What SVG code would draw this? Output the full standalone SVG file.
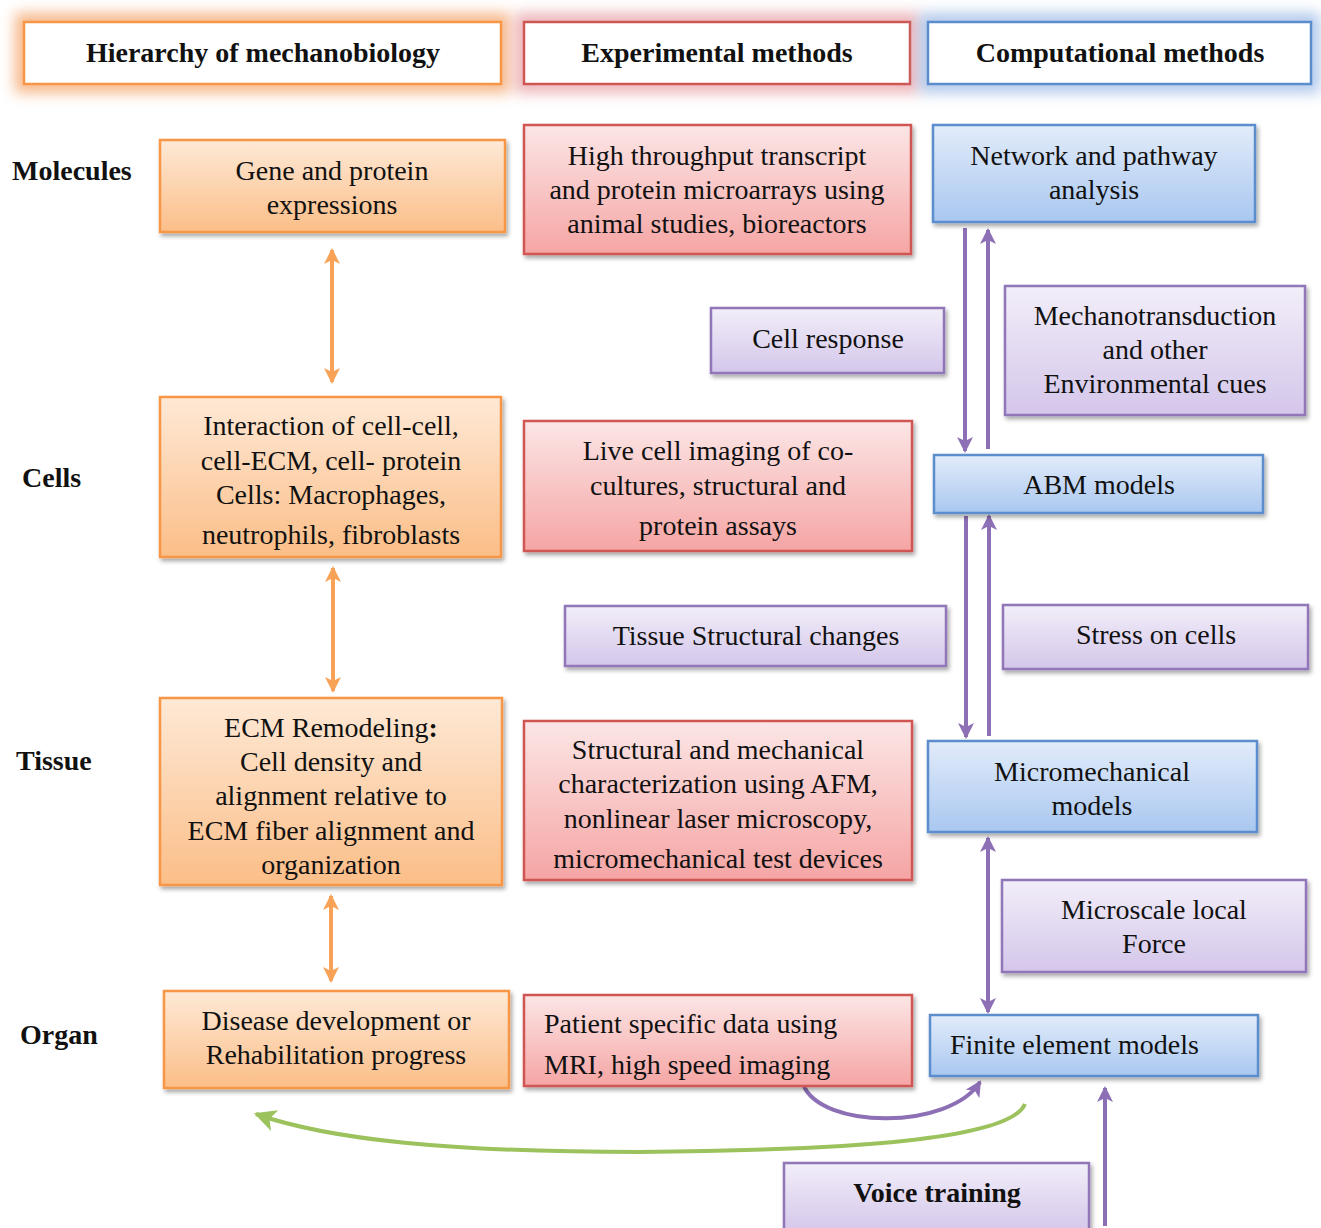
<svg xmlns="http://www.w3.org/2000/svg" width="1321" height="1228" viewBox="0 0 1321 1228">
<defs>
<linearGradient id="gO" x1="0" y1="0" x2="0" y2="1"><stop offset="0" stop-color="#fee9d6"/><stop offset="1" stop-color="#fbbe88"/></linearGradient>
<linearGradient id="gR" x1="0" y1="0" x2="0" y2="1"><stop offset="0" stop-color="#fce6e6"/><stop offset="1" stop-color="#f5a5a4"/></linearGradient>
<linearGradient id="gB" x1="0" y1="0" x2="0" y2="1"><stop offset="0" stop-color="#e2ecfa"/><stop offset="1" stop-color="#a9c7f0"/></linearGradient>
<linearGradient id="gP" x1="0" y1="0" x2="0" y2="1"><stop offset="0" stop-color="#f2eef9"/><stop offset="1" stop-color="#d4c6ea"/></linearGradient>
<filter id="sh" x="-10%" y="-10%" width="125%" height="130%"><feDropShadow dx="2" dy="3" stdDeviation="2" flood-color="#000" flood-opacity="0.35"/></filter>
<filter id="glow" x="-20%" y="-60%" width="140%" height="220%"><feGaussianBlur stdDeviation="7"/></filter>
<marker id="aP" viewBox="0 0 16 16" refX="14" refY="8" markerWidth="16" markerHeight="16" markerUnits="userSpaceOnUse" orient="auto-start-reverse"><path d="M0,0 L16,8 L0,16 L4,8 Z" fill="#8c6fb4"/></marker>
<marker id="aO" viewBox="0 0 16 16" refX="14" refY="8" markerWidth="16" markerHeight="16" markerUnits="userSpaceOnUse" orient="auto-start-reverse"><path d="M0,0 L16,8 L0,16 L4,8 Z" fill="#f8a258"/></marker>
<marker id="aG" viewBox="0 0 20 20" refX="18" refY="10" markerWidth="22" markerHeight="22" markerUnits="userSpaceOnUse" orient="auto"><path d="M0,0 L20,10 L0,20 L5,10 Z" fill="#9bc25c"/></marker>
</defs>
<style>
text{font-family:"Liberation Serif","Times New Roman",serif;font-size:28px;fill:#111;}
.c{text-anchor:middle;}
.b{font-weight:bold;}
.o{fill:url(#gO);stroke:#f79646;stroke-width:2.5;filter:url(#sh);}
.r{fill:url(#gR);stroke:#cf5753;stroke-width:2.5;filter:url(#sh);}
.bl{fill:url(#gB);stroke:#5b8dcc;stroke-width:2.5;filter:url(#sh);}
.p{fill:url(#gP);stroke:#9176b8;stroke-width:2.5;filter:url(#sh);}
.h{fill:#fff;stroke-width:2.5;}
.pa{fill:none;stroke:#8c6fb4;stroke-width:4;}
.oa{fill:none;stroke:#f8a258;stroke-width:4;}
</style>
<rect width="1321" height="1228" fill="#fff"/>

<g id="header-hierarchy">
<rect x="24" y="22" width="477" height="62" fill="none" stroke="#f4a66c" stroke-width="18" filter="url(#glow)" opacity="0.8"/>
<rect class="h" x="24" y="22" width="477" height="62" stroke="#f79646"/>
<text class="c b" x="263" y="62">Hierarchy of mechanobiology</text>
</g>
<g id="header-experimental">
<rect x="524" y="22" width="386" height="62" fill="none" stroke="#e8a0a6" stroke-width="18" filter="url(#glow)" opacity="0.8"/>
<rect class="h" x="524" y="22" width="386" height="62" stroke="#cf5753"/>
<text class="c b" x="717" y="62">Experimental methods</text>
</g>
<g id="header-computational">
<rect x="928" y="22" width="383" height="62" fill="none" stroke="#9dbbe6" stroke-width="18" filter="url(#glow)" opacity="0.8"/>
<rect class="h" x="928" y="22" width="383" height="62" stroke="#5b8dcc"/>
<text class="c b" x="1120" y="62">Computational methods</text>
</g>

<g id="labels">
<text class="b" x="12" y="180">Molecules</text>
<text class="b" x="22" y="487">Cells</text>
<text class="b" x="16" y="770">Tissue</text>
<text class="b" x="20" y="1044">Organ</text>
</g>

<g id="connectors">
<line class="oa" x1="332" y1="250" x2="332" y2="382" marker-start="url(#aO)" marker-end="url(#aO)"/>
<line class="oa" x1="333" y1="568" x2="333" y2="691" marker-start="url(#aO)" marker-end="url(#aO)"/>
<line class="oa" x1="331" y1="896" x2="331" y2="981" marker-start="url(#aO)" marker-end="url(#aO)"/>
<line class="pa" x1="965" y1="228" x2="965" y2="451" marker-end="url(#aP)"/>
<line class="pa" x1="988" y1="449" x2="988" y2="230" marker-end="url(#aP)"/>
<line class="pa" x1="966" y1="516" x2="966" y2="737" marker-end="url(#aP)"/>
<line class="pa" x1="989" y1="736" x2="989" y2="516" marker-end="url(#aP)"/>
<line class="pa" x1="988" y1="838" x2="988" y2="1012" marker-start="url(#aP)" marker-end="url(#aP)"/>
<line class="pa" x1="1105" y1="1226" x2="1105" y2="1088" marker-end="url(#aP)"/>
<path class="pa" d="M803,1084 C820,1130 950,1130 980,1082" marker-end="url(#aP)"/>
<path d="M1025,1104 C1010,1140 850,1150 640,1152 C450,1152 330,1140 256,1114" fill="none" stroke="#9bc25c" stroke-width="4" marker-end="url(#aG)"/>
</g>

<g id="node-gene">
<rect class="o" x="160" y="140" width="345" height="92"/>
<text class="c" x="332" y="180">Gene and protein</text>
<text class="c" x="332" y="214">expressions</text>
</g>
<g id="node-interaction">
<rect class="o" x="160" y="397" width="341" height="160"/>
<text class="c" x="331" y="435">Interaction of cell-cell,</text>
<text class="c" x="331" y="470">cell-ECM, cell- protein</text>
<text class="c" x="331" y="504">Cells: Macrophages,</text>
<text class="c" x="331" y="544">neutrophils, fibroblasts</text>
</g>
<g id="node-ecm">
<rect class="o" x="160" y="698" width="342" height="187"/>
<text class="c" x="331" y="737">ECM Remodeling<tspan class="b">:</tspan></text>
<text class="c" x="331" y="771">Cell density and</text>
<text class="c" x="331" y="805">alignment relative to</text>
<text class="c" x="331" y="840">ECM fiber alignment and</text>
<text class="c" x="331" y="874">organization</text>
</g>
<g id="node-disease">
<rect class="o" x="164" y="991" width="345" height="97"/>
<text class="c" x="336" y="1030">Disease development or</text>
<text class="c" x="336" y="1064">Rehabilitation progress</text>
</g>

<g id="node-highthroughput">
<rect class="r" x="524" y="125" width="387" height="129"/>
<text class="c" x="717" y="165">High throughput transcript</text>
<text class="c" x="717" y="199">and protein microarrays using</text>
<text class="c" x="717" y="233">animal studies, bioreactors</text>
</g>
<g id="node-livecell">
<rect class="r" x="524" y="421" width="388" height="130"/>
<text class="c" x="718" y="460">Live cell imaging of co-</text>
<text class="c" x="718" y="495">cultures, structural and</text>
<text class="c" x="718" y="535">protein assays</text>
</g>
<g id="node-structural">
<rect class="r" x="524" y="721" width="388" height="159"/>
<text class="c" x="718" y="759">Structural and mechanical</text>
<text class="c" x="718" y="793">characterization using AFM,</text>
<text class="c" x="718" y="828">nonlinear laser microscopy,</text>
<text class="c" x="718" y="868">micromechanical test devices</text>
</g>
<g id="node-patient">
<rect class="r" x="524" y="995" width="388" height="91"/>
<text x="544" y="1033">Patient specific data using</text>
<text x="544" y="1074">MRI, high speed imaging</text>
</g>

<g id="node-network">
<rect class="bl" x="933" y="125" width="322" height="97"/>
<text class="c" x="1094" y="165">Network and pathway</text>
<text class="c" x="1094" y="199">analysis</text>
</g>
<g id="node-abm">
<rect class="bl" x="934" y="455" width="329" height="58"/>
<text class="c" x="1099" y="494">ABM models</text>
</g>
<g id="node-micromech">
<rect class="bl" x="928" y="741" width="329" height="91"/>
<text class="c" x="1092" y="781">Micromechanical</text>
<text class="c" x="1092" y="815">models</text>
</g>
<g id="node-fem">
<rect class="bl" x="930" y="1015" width="328" height="61"/>
<text x="950" y="1054">Finite element models</text>
</g>

<g id="node-cellresponse">
<rect class="p" x="711" y="308" width="233" height="65"/>
<text class="c" x="828" y="348">Cell response</text>
</g>
<g id="node-mechanotransduction">
<rect class="p" x="1005" y="286" width="300" height="129"/>
<text class="c" x="1155" y="325">Mechanotransduction</text>
<text class="c" x="1155" y="359">and other</text>
<text class="c" x="1155" y="393">Environmental cues</text>
</g>
<g id="node-tissuestructural">
<rect class="p" x="565" y="606" width="381" height="60"/>
<text class="c" x="756" y="645">Tissue Structural changes</text>
</g>
<g id="node-stress">
<rect class="p" x="1003" y="605" width="305" height="64"/>
<text class="c" x="1156" y="644">Stress on cells</text>
</g>
<g id="node-microscale">
<rect class="p" x="1002" y="880" width="304" height="92"/>
<text class="c" x="1154" y="919">Microscale local</text>
<text class="c" x="1154" y="953">Force</text>
</g>
<g id="node-voice">
<rect class="p" x="784" y="1163" width="305" height="70"/>
<text class="c b" x="937" y="1202">Voice training</text>
</g>
</svg>
